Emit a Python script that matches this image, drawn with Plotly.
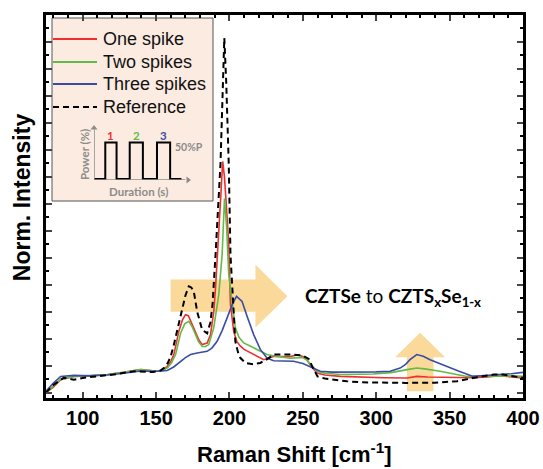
import plotly.graph_objects as go

# ---------------- data ----------------
REF_X = [75, 80, 87, 94, 101, 110, 121, 135, 148, 153, 155.5, 158, 160, 162, 164.5, 167.8, 170, 172.3, 174,
         175.7, 178, 181.4, 184.8, 187, 188.5, 190.5, 192.5, 193.9, 195.3, 196.5, 197.8, 199.5, 200.7, 202.5,
         204, 205.8, 207.5, 210.9, 216, 221, 226, 230, 236, 243.7, 250, 254, 257, 260, 265, 270, 280, 290,
         300, 320, 340, 355, 366, 374, 380, 386, 393, 400]
REF_Y = [0.0, 0.028, 0.055, 0.048, 0.055, 0.06, 0.067, 0.079, 0.076, 0.082, 0.092, 0.11, 0.135, 0.175, 0.23,
         0.307, 0.36, 0.394, 0.39, 0.375, 0.30, 0.233, 0.22, 0.26, 0.33, 0.51, 0.70, 0.85, 1.10, 1.315, 1.15,
         0.85, 0.51, 0.32, 0.19, 0.15, 0.128, 0.11, 0.105, 0.11, 0.125, 0.141, 0.14, 0.141, 0.137, 0.125, 0.09,
         0.06, 0.052, 0.048, 0.042, 0.038, 0.037, 0.036, 0.037, 0.042, 0.054, 0.062, 0.067, 0.067, 0.06, 0.055]

RED_X = [75, 80, 85, 94, 105, 117, 128, 139.5, 150.8, 155, 157.6, 160, 162.1, 165.5, 168, 170, 172, 175.7,
         179.1, 181.4, 184.8, 187.1, 189.3, 190.5, 191.6, 192.7, 194, 195.4, 196.6, 197.8, 199.5, 200.7, 202.9,
         205, 207.5, 210, 214.3, 218.8, 223.3, 230, 236, 241.5, 246, 250, 253, 256, 259.7, 265, 275.5, 290,
         305, 321, 327.6, 335, 343.5, 355, 366, 376, 384, 392, 400]
RED_Y = [0.0, 0.02, 0.048, 0.06, 0.062, 0.067, 0.075, 0.085, 0.079, 0.085, 0.097, 0.115, 0.141, 0.227, 0.27,
         0.289, 0.285, 0.24, 0.196, 0.178, 0.184, 0.215, 0.30, 0.388, 0.486, 0.567, 0.72, 0.857, 0.80, 0.70,
         0.55, 0.326, 0.227, 0.19, 0.172, 0.16, 0.147, 0.134, 0.122, 0.134, 0.135, 0.134, 0.14, 0.134, 0.12,
         0.095, 0.073, 0.065, 0.06, 0.057, 0.055, 0.054, 0.06, 0.058, 0.057, 0.056, 0.055, 0.058, 0.063, 0.058,
         0.054]

GREEN_X = [75, 80, 85, 94, 105, 117, 128, 139.5, 150.8, 155, 158, 160.5, 163.3, 166.7, 169.5, 172.3, 174.5,
           176.9, 179, 181.4, 183.5, 185.9, 189.3, 192.7, 195, 196.6, 198, 199.5, 201.8, 204, 206.5, 209.7,
           216.5, 225.6, 232.4, 241.5, 250, 253, 256, 259.7, 265, 275.5, 290, 298, 310, 316.3, 322, 327.6,
           333, 343.5, 352, 361.7, 372, 384, 392, 400]
GREEN_Y = [0.0, 0.025, 0.05, 0.06, 0.063, 0.067, 0.075, 0.085, 0.079, 0.082, 0.093, 0.11, 0.141, 0.22, 0.255,
           0.264, 0.245, 0.215, 0.188, 0.172, 0.17, 0.178, 0.24, 0.363, 0.51, 0.72, 0.62, 0.437, 0.326, 0.24,
           0.205, 0.184, 0.166, 0.141, 0.134, 0.128, 0.13, 0.12, 0.1, 0.079, 0.072, 0.067, 0.068, 0.069, 0.074,
           0.079, 0.086, 0.091, 0.088, 0.079, 0.07, 0.06, 0.061, 0.063, 0.062, 0.06]

BLUE_X = [75, 80, 85, 94, 105, 117, 128, 139.5, 150.8, 157.6, 162, 166.7, 170, 173.5, 178, 184.8, 188, 191.6,
          195, 198.4, 201.8, 204.8, 208.6, 212, 216.5, 221, 225.6, 230, 237, 243.7, 250, 255, 261.9, 270,
          286.9, 300, 309.5, 316.3, 320, 323, 327.6, 332, 336.7, 342, 348, 356, 366, 375, 384, 392, 400]
BLUE_Y = [0.005, 0.035, 0.06, 0.064, 0.062, 0.065, 0.072, 0.08, 0.079, 0.082, 0.095, 0.116, 0.13, 0.141,
          0.147, 0.153, 0.165, 0.19, 0.23, 0.277, 0.326, 0.357, 0.338, 0.283, 0.215, 0.16, 0.128, 0.118,
          0.118, 0.116, 0.108, 0.097, 0.079, 0.076, 0.075, 0.077, 0.079, 0.091, 0.105, 0.122, 0.141, 0.135,
          0.122, 0.11, 0.097, 0.08, 0.06, 0.063, 0.067, 0.07, 0.075]

SERIES_NAMES = ["One spike", "Two spikes", "Three spikes", "Reference"]
SERIES_COLORS = ["#EE2F2F", "#62BB47", "#3A4DA6", "#000000"]

# inset schematic: laser power pulses (arbitrary time units, % power)
PULSE_T = [0, 1.2, 1.2, 2.4, 2.4, 3.8, 3.8, 5.2, 5.2, 6.7, 6.7, 8.1, 8.1, 9.3]
PULSE_P = [0, 0, 50, 50, 0, 0, 50, 50, 0, 0, 50, 50, 0, 0]
PULSE_LABELS = ["1", "2", "3"]
PULSE_LABEL_T = [1.8, 4.5, 7.4]

X_TICKS = [100, 150, 200, 250, 300, 350, 400]

FONT = "Arial, Liberation Sans, sans-serif"
CAL = "Lato, Open Sans, sans-serif"
ARROW_FILL = "#FAD99A"
GRAY = "#8C8C8C"

W, H = 543, 469
ML, MR, MT, MB = 46, 20, 15, 71
PW, PH = W - ML - MR, H - MT - MB


def px_x(px):
    return (px - ML) / PW


def px_y(py):
    return (H - MB - py) / PH


fig = go.Figure()

for xs, ys, name, col in zip([RED_X, GREEN_X, BLUE_X], [RED_Y, GREEN_Y, BLUE_Y], SERIES_NAMES[:3], SERIES_COLORS[:3]):
    fig.add_trace(go.Scatter(x=xs, y=ys, mode="lines", name=name, showlegend=False,
                             line=dict(color=col, width=1.6)))
fig.add_trace(go.Scatter(x=REF_X, y=REF_Y, mode="lines", name=SERIES_NAMES[3], showlegend=False,
                         line=dict(color=SERIES_COLORS[3], width=2, dash="6px,4px")))

# inset pulse trace + axis arrowheads
fig.add_trace(go.Scatter(x=PULSE_T, y=PULSE_P, mode="lines", xaxis="x2", yaxis="y2",
                         line=dict(color="black", width=2), showlegend=False, hoverinfo="skip"))
fig.add_trace(go.Scatter(x=[0, 10], y=[70, -1.4], mode="markers", xaxis="x2", yaxis="y2",
                         marker=dict(symbol=["triangle-up", "triangle-right"], size=6, color=GRAY),
                         showlegend=False, hoverinfo="skip", cliponaxis=False))

shapes = [
    # legend box
    dict(type="rect", xref="paper", yref="paper", x0=px_x(52), x1=px_x(213), y0=px_y(201), y1=px_y(18),
         fillcolor="#FCEBE1", line=dict(color="#555555", width=1), layer="below"),
    # horizontal shift arrow
    dict(type="path", xref="x", yref="y", layer="below", fillcolor=ARROW_FILL, line=dict(width=0),
         path="M 159.9,0.300 L 217.7,0.300 L 217.7,0.241 L 239.5,0.357 L 217.7,0.474 L 217.7,0.419 L 159.9,0.419 Z"),
    # vertical up arrow
    dict(type="path", xref="x", yref="y", layer="below", fillcolor=ARROW_FILL, line=dict(width=0),
         path="M 320.9,0.005 L 339.0,0.005 L 339.0,0.131 L 346.9,0.131 L 329.9,0.222 L 312.9,0.131 L 320.9,0.131 Z"),
    # inset gray axes
    dict(type="line", xref="x2", yref="y2", x0=0, x1=9.7, y0=-1.4, y1=-1.4, line=dict(color=GRAY, width=1.5)),
    dict(type="line", xref="x2", yref="y2", x0=0, x1=0, y0=-1.4, y1=68, line=dict(color=GRAY, width=1.5)),
]

annotations = [
    dict(text="Norm. Intensity", xref="paper", yref="paper", x=px_x(21.7), y=px_y(197.5), textangle=-90,
         xanchor="center", yanchor="middle",
         showarrow=False, font=dict(family=FONT, size=23, color="black", weight="bold")),
    dict(text="Raman Shift [cm<sup>-1</sup>]", xref="paper", yref="paper", x=px_x(294), y=px_y(452.7),
         xanchor="center", yanchor="middle",
         showarrow=False, font=dict(family=FONT, size=22, color="black", weight="bold")),
    dict(text="<b>CZTSe</b> to <b>CZTS<sub>x</sub>Se<sub>1-x</sub></b>", xref="x", yref="y",
         x=250.3, y=0.356, xanchor="left", yanchor="middle", showarrow=False,
         font=dict(family=CAL, size=19, color="black")),
    dict(text="50%P", xref="paper", yref="paper", x=px_x(172.5), y=px_y(146.5), xanchor="left",
         yanchor="middle", showarrow=False,
         font=dict(family=CAL, size=10.5, color=GRAY, weight="bold")),
    dict(text="Power (%)", xref="paper", yref="paper", x=px_x(84), y=px_y(155), textangle=-90,
         xanchor="center", yanchor="middle", showarrow=False,
         font=dict(family=CAL, size=11.5, color=GRAY, weight="bold")),
    dict(text="Duration (s)", xref="paper", yref="paper", x=px_x(138.5), y=px_y(191.5),
         xanchor="center", yanchor="middle", showarrow=False,
         font=dict(family=CAL, size=11.5, color=GRAY, weight="bold")),
]
for lab, t, col in zip(PULSE_LABELS, PULSE_LABEL_T, SERIES_COLORS[:3]):
    annotations.append(dict(text=lab, xref="x2", yref="y2", x=t, y=60, showarrow=False,
                            font=dict(family=CAL, size=11.5, color=col, weight="bold")))

# legend entries (sample line + label)
LEG_Y = [39, 62, 84, 107]
for name, col, ly in zip(SERIES_NAMES, SERIES_COLORS, LEG_Y):
    dash = "6px,4px" if name == "Reference" else "solid"
    shapes.append(dict(type="line", xref="paper", yref="paper", x0=px_x(53), x1=px_x(97),
                       y0=px_y(ly), y1=px_y(ly), line=dict(color=col, width=2 if dash != "solid" else 1.8, dash=dash)))
    annotations.append(dict(text=name, xref="paper", yref="paper", x=px_x(100.5), y=px_y(ly),
                            xanchor="left", yanchor="middle", showarrow=False,
                            font=dict(family=FONT, size=18, color="#111111")))

fig.update_layout(
    width=W, height=H,
    margin=dict(l=ML, r=MR, t=MT, b=MB, autoexpand=False),
    paper_bgcolor="white", plot_bgcolor="rgba(0,0,0,0)",
    shapes=shapes, annotations=annotations,
    showlegend=False,
    xaxis=dict(range=[75, 400], tickvals=X_TICKS, ticks="inside", ticklen=6, tickwidth=2, automargin=False,
               showline=True, linewidth=2.5, linecolor="black", mirror="ticks", showgrid=False,
               zeroline=False, tickfont=dict(family=FONT, size=20, color="black", weight="bold"),
               minor=dict(dtick=10, tick0=0, ticks="inside", ticklen=3, tickwidth=1.5, tickcolor="black")),
    yaxis=dict(range=[-0.02, 1.4], tick0=0, dtick=0.1, ticks="inside", ticklen=6, tickwidth=2,
               showticklabels=False, showline=True, linewidth=2.5, linecolor="black", mirror="ticks",
               showgrid=False, zeroline=False, automargin=False,
               minor=dict(dtick=0.05, tick0=0, ticks="inside", ticklen=3, tickwidth=1.5, tickcolor="black")),
    xaxis2=dict(domain=[px_x(94), px_x(188)], range=[0, 10], visible=False, anchor="y2", automargin=False),
    yaxis2=dict(domain=[px_y(180), px_y(128)], range=[-1.4, 70], visible=False, anchor="x2", automargin=False),
)

fig.write_html("out.html", config={"displayModeBar": False},
               post_script="document.body.style.margin='0px';document.body.style.overflow='hidden';")
